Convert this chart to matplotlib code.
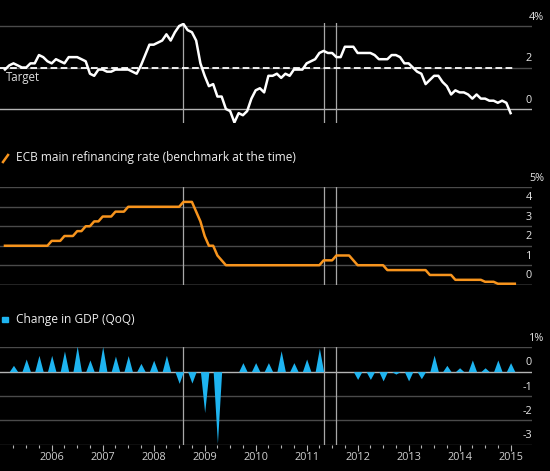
import numpy as np
import matplotlib
matplotlib.use("Agg")
import matplotlib.pyplot as plt
from matplotlib.lines import Line2D
from matplotlib.patches import Rectangle

plt.rcParams['font.family'] = ['Open Sans', 'DejaVu Sans']

# monthly inflation, Jan 2005 .. Dec 2014 (%)
inflation = [
    1.9, 2.1, 2.2, 2.1, 2.0, 2.0, 2.2, 2.2, 2.6, 2.5, 2.3, 2.2,
    2.4, 2.3, 2.2, 2.5, 2.5, 2.5, 2.4, 2.3, 1.7, 1.6, 1.9, 1.9,
    1.8, 1.8, 1.9, 1.9, 1.9, 1.9, 1.8, 1.7, 2.1, 2.6, 3.1, 3.1,
    3.2, 3.3, 3.6, 3.3, 3.7, 4.0, 4.1, 3.8, 3.7, 3.3, 2.2, 1.6,
    1.1, 1.2, 0.6, 0.6, 0.0, -0.1, -0.65, -0.2, -0.3, -0.1, 0.5, 0.9,
    1.0, 0.8, 1.6, 1.6, 1.7, 1.5, 1.7, 1.6, 1.9, 1.9, 1.9, 2.2,
    2.3, 2.4, 2.7, 2.8, 2.7, 2.7, 2.5, 2.5, 3.0, 3.0, 3.0, 2.7,
    2.7, 2.7, 2.7, 2.6, 2.4, 2.4, 2.4, 2.6, 2.6, 2.5, 2.2, 2.2,
    2.0, 1.8, 1.7, 1.2, 1.4, 1.6, 1.6, 1.3, 1.1, 0.7, 0.9, 0.8,
    0.8, 0.7, 0.5, 0.7, 0.5, 0.5, 0.4, 0.4, 0.3, 0.4, 0.3, -0.2,
]
target = 2.0

# ECB main refinancing rate, month end, Jan 2005 .. Jan 2015 (%)
refi = [
    2.0, 2.0, 2.0, 2.0, 2.0, 2.0, 2.0, 2.0, 2.0, 2.0, 2.0, 2.25,
    2.25, 2.25, 2.5, 2.5, 2.5, 2.75, 2.75, 3.0, 3.0, 3.25, 3.25, 3.5,
    3.5, 3.5, 3.75, 3.75, 3.75, 4.0, 4.0, 4.0, 4.0, 4.0, 4.0, 4.0,
    4.0, 4.0, 4.0, 4.0, 4.0, 4.0, 4.25, 4.25, 4.25, 3.75, 3.25, 2.5,
    2.0, 2.0, 1.5, 1.25, 1.0, 1.0, 1.0, 1.0, 1.0, 1.0, 1.0, 1.0,
    1.0, 1.0, 1.0, 1.0, 1.0, 1.0, 1.0, 1.0, 1.0, 1.0, 1.0, 1.0,
    1.0, 1.0, 1.0, 1.25, 1.25, 1.25, 1.5, 1.5, 1.5, 1.5, 1.25, 1.0,
    1.0, 1.0, 1.0, 1.0, 1.0, 1.0, 0.75, 0.75, 0.75, 0.75, 0.75, 0.75,
    0.75, 0.75, 0.75, 0.75, 0.5, 0.5, 0.5, 0.5, 0.5, 0.5, 0.25, 0.25,
    0.25, 0.25, 0.25, 0.25, 0.25, 0.15, 0.15, 0.15, 0.05, 0.05, 0.05, 0.05,
    0.05,
]

# GDP change QoQ, Q1 2005 .. Q4 2014 (%)
gdp = [
    0.26, 0.52, 0.67, 0.67,
    0.85, 1.05, 0.48, 1.03,
    0.64, 0.66, 0.34, 0.47,
    0.67, -0.48, -0.47, -1.68,
    -2.95, 0.0, 0.37, 0.37,
    0.37, 0.86, 0.37, 0.52,
    0.96, 0.0, 0.0, -0.32,
    -0.32, -0.38, -0.1, -0.38,
    -0.29, 0.68, 0.26, 0.16,
    0.48, 0.16, 0.48, 0.37,
]

# rate hike months marked with vertical lines (Jul 2008, Apr 2011, Jul 2011)
events = [2008 + 7 / 12, 2011 + 4 / 12, 2011 + 7 / 12]

years = list(range(2006, 2016))

x_inf = 2005 + (np.arange(len(inflation)) + 1) / 12
x_refi = 2005 + (np.arange(len(refi)) + 1) / 12
x_gdp = 2005 + (np.arange(len(gdp)) + 1) / 4

W, H = 550, 471
fig = plt.figure(figsize=(W / 100, H / 100), dpi=100, facecolor='black')
xlim = (2004.986, 2015.42)
ax_w = 532 / W
lab_size = 7.8

def make_ax(top_px, bot_px):
    ax = fig.add_axes([0, 1 - bot_px / H, ax_w, (bot_px - top_px) / H])
    ax.set_facecolor('black')
    for s in ax.spines.values():
        s.set_visible(False)
    ax.set_xlim(*xlim)
    ax.set_yticks([])
    ax.set_xticks([])
    return ax

def grid_and_labels(ax, ticks, unit_label):
    for t in ticks:
        c = '#b4b4b4' if t == 0 else '#4a4a4a'
        ax.axhline(t, color=c, lw=1.0, zorder=1)
        if t == ticks[-1]:
            ax.annotate(str(t) + unit_label, xy=(1.0, t), xycoords=('axes fraction', 'data'),
                        xytext=(-2, 2.5), textcoords='offset points', ha='left', va='bottom',
                        color='#e6e6e6', fontsize=lab_size)
        else:
            ax.annotate(str(t), xy=(1.0, t), xycoords=('axes fraction', 'data'),
                        xytext=(0, 2.5), textcoords='offset points', ha='right', va='bottom',
                        color='#e6e6e6', fontsize=lab_size)

def vlines(ax):
    for e in events:
        ax.axvline(e, color='#a8a8a8', lw=0.9, zorder=2)

# top: inflation
ax1 = make_ax(23, 123)
ax1.set_ylim(-0.675, 4.145)
grid_and_labels(ax1, [0, 2, 4], '%')
ax1.plot([xlim[0], 2015.05], [target, target], color='white', lw=1.3,
         ls=(0, (3.7, 1.9)), zorder=3)
ax1.text(2005.1, 1.82, 'Target', color='#dddddd', fontsize=8.3, va='top', ha='left')
vlines(ax1)
ax1.plot(x_inf, inflation, color='white', lw=1.8, zorder=4, solid_joinstyle='round')

# middle: refi rate
ax2 = make_ax(187.3, 284.7)
ax2.set_ylim(0, 5)
grid_and_labels(ax2, [0, 1, 2, 3, 4, 5], '%')
vlines(ax2)
ax2.plot(x_refi, refi, color='#f7941d', lw=1.8, zorder=4)

# bottom: GDP
ax3 = make_ax(347.3, 444.7)
ax3.set_ylim(-3, 1)
grid_and_labels(ax3, [-3, -2, -1, 0, 1], '%')
vlines(ax3)
for xq, v in zip(x_gdp, gdp):
    ax3.fill_between([xq - 1 / 12, xq, xq + 1 / 12], [0, v, 0], 0,
                     color='#1eb4f0', lw=0, zorder=3)

ax3.set_xticks(years)
ax3.set_xticklabels([str(y) for y in years])
ax3.set_xticks([q / 4 for q in range(2005 * 4 + 1, 2015 * 4 + 1)], minor=True)
ax3.tick_params(axis='x', which='major', length=4, width=0.8, color='#b4b4b4',
                labelcolor='#d0d0d0', labelsize=lab_size, pad=1.5)
ax3.tick_params(axis='x', which='minor', length=2.2, width=0.8, color='#b4b4b4')

# legend-like labels
fig.text(16 / W, 1 - 158 / H, 'ECB main refinancing rate (benchmark at the time)',
         color='#eeeeee', fontsize=8.6, va='center', ha='left')
fig.add_artist(Line2D([3 / W, 8 / W], [1 - 162 / H, 1 - 155 / H],
                      color='#f7941d', lw=1.8, transform=fig.transFigure))
fig.text(16 / W, 1 - 319 / H, 'Change in GDP (QoQ)',
         color='#eeeeee', fontsize=8.6, va='center', ha='left')
fig.add_artist(Rectangle((2 / W, 1 - 322 / H), 5.5 / W, 5.5 / H,
                         color='#1eb4f0', transform=fig.transFigure))

fig.savefig('out.png', dpi=100, facecolor='black')
